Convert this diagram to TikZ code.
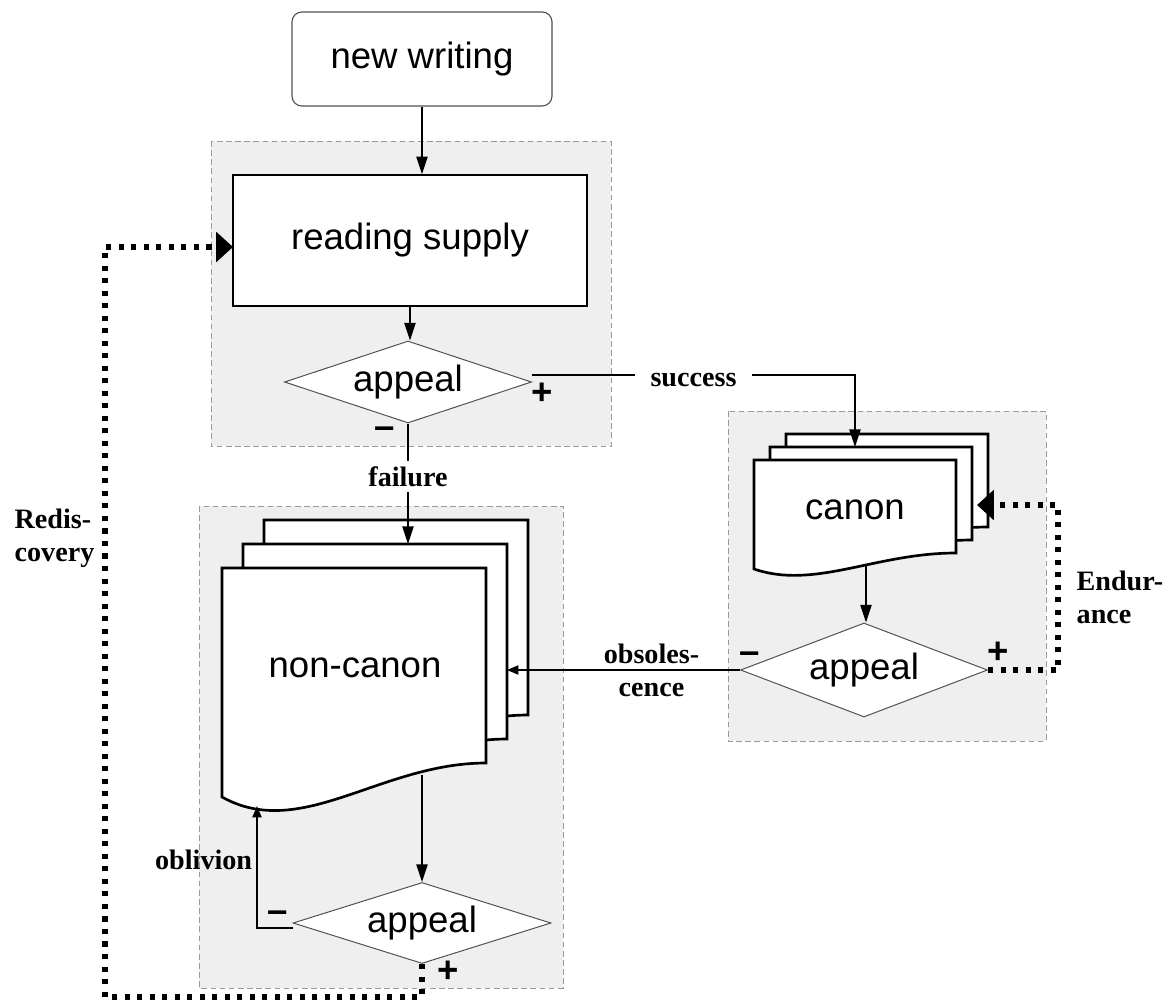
\documentclass[tikz,border=0pt]{standalone}
\usepackage{fontspec}
\setmainfont{Liberation Sans}
\newfontfamily\lblfont{Liberation Serif}
\usetikzlibrary{shapes.geometric,arrows.meta}
\definecolor{panelgray}{HTML}{EFEFEF}
\definecolor{paneledge}{HTML}{9A9A9A}
\definecolor{boxedge}{HTML}{505050}

% one sheet of a document stack: name, x, y, width, height, wave
\newcommand{\docsheet}[6]{%
  \path (#2,#3) node (#1) [sheet, minimum width={#4*0.025cm}, minimum height={#5*0.025cm}] {};
  \draw [sheetline] (#1.north west) -- (#1.north east) -- ++(0,{#5-#6})
    .. controls +({-0.4*#4},0) and +({0.3*#4},{1.3*#6}) .. (#1.south west) -- cycle;
}

\begin{document}
\begin{tikzpicture}[x=0.025cm,y=-0.025cm,
  box/.style={shape=rectangle,fill=white,inner sep=0pt,font=\fontsize{26}{30}\selectfont},
  decision/.style={shape=diamond,aspect=3,draw=boxedge,fill=white,line width=0.7pt,inner sep=0pt,font=\fontsize{26}{30}\selectfont},
  doctext/.style={inner sep=0pt,font=\fontsize{26}{30}\selectfont},
  sheet/.style={shape=rectangle,inner sep=0pt,outer sep=0pt,anchor=north west},
  sheetline/.style={draw=black,fill=white,line width=1.9pt},
  panel/.style={fill=panelgray,draw=paneledge,line width=0.7pt,dash pattern=on 4pt off 2.5pt},
  lbl/.style={inner sep=1pt,font=\lblfont\bfseries\fontsize{20}{23.5}\selectfont},
  pmsign/.style={inner sep=0pt,font=\bfseries\fontsize{26}{30}\selectfont},
  arr/.style={-{Triangle[length=12.5pt,width=8pt]},line width=1pt},
  smallarr/.style={-{Triangle[length=8pt,width=6.5pt]},line width=1pt},
  dottedloop/.style={-{Triangle[length=12pt,width=21pt]},line width=3.6pt,dash pattern=on 3.6pt off 5.3pt}]
\useasboundingbox (0,0) rectangle (1169,1000);

% grey panels
\draw [panel] (211,141) rectangle (611,446);
\draw [panel] (728,411) rectangle (1046,741);
\draw [panel] (199,506) rectangle (563,988);

% stacks of documents
\docsheet{noncanonC}{264}{520}{264}{229}{34}
\docsheet{noncanonB}{243}{544}{264}{229}{34}
\docsheet{noncanonA}{222}{568}{264}{229}{34}
\docsheet{canonC}{786}{434}{202}{109}{16}
\docsheet{canonB}{770}{447}{202}{109}{16}
\docsheet{canonA}{754}{460}{202}{109}{16}
\path (355,668) node (noncanon) [doctext] {non-canon};
\path (855,510) node (canon) [doctext] {canon};

\path (422,59) node (newwriting) [box,draw=boxedge,line width=0.8pt,rounded corners=7pt,minimum width=260*0.025cm,minimum height=94*0.025cm] {new writing};
\path (410,240.5) node (supply) [box,draw=black,line width=1pt,minimum width=354*0.025cm,minimum height=131*0.025cm] {reading supply};
\path (408,382) node (appealA) [decision,minimum width=247*0.025cm,minimum height=82*0.025cm] {appeal};
\path (864,670) node (appealB) [decision,minimum width=247*0.025cm,minimum height=94*0.025cm] {appeal};
\path (422,923) node (appealC) [decision,minimum width=258*0.025cm,minimum height=81*0.025cm] {appeal};

\path (542,394) node (plusA) [pmsign] {+};
\path (385,433) node (minusA) [pmsign] {\textendash};
\path (998,653) node (plusB) [pmsign] {+};
\path (750,658) node (minusB) [pmsign] {\textendash};
\path (448,972) node (plusC) [pmsign] {+};
\path (278,917) node (minusC) [pmsign] {\textendash};

\path (13,538) node (redis) [lbl,anchor=west,align=left] {Redis-\\covery};
\path (1075,597) node (endur) [lbl,anchor=west,align=left] {Endur-\\ance};

\coordinate (canonout) at (866,566);
\coordinate (ncout) at (422,775);
\coordinate (oblivin) at (257,806);
\coordinate (endin) at (977,505);
\coordinate (redisturn) at (105,997);
\coordinate (redisin) at (233,247);

\draw [arr] (newwriting) -- (newwriting |- supply.north);
\draw [arr] (supply.south) -- (supply.south |- appealA.north);
\draw [arr] ([yshift=5pt]appealA.east) -| node [pos=0.25,lbl,fill=white,inner xsep=11pt,yshift=-3.5pt] {success} (canon |- canonB.north);
\draw [arr] (appealA.south) -- node [pos=0.44,lbl,fill=white,inner ysep=4pt] {failure} (appealA.south |- noncanonB.north);
\draw [arr] (canonout) -- (canonout |- appealB.north);
\draw [smallarr] (appealB.west) -- node [pos=0.38,lbl,align=center] {obsoles-\\cence} (appealB.west -| noncanonB.east);
\draw [arr] (ncout) -- (ncout |- appealC.north);
\draw [smallarr] ([yshift=-3.5pt]appealC.west) -| node [pos=0.78,lbl,left=2pt] {oblivion} (oblivin);
\draw [dottedloop] (appealB.east) -- ++(70,0) |- (endin);
\draw [dottedloop] (appealC.south) |- (redisturn) |- (redisin);
\end{tikzpicture}
\end{document}
